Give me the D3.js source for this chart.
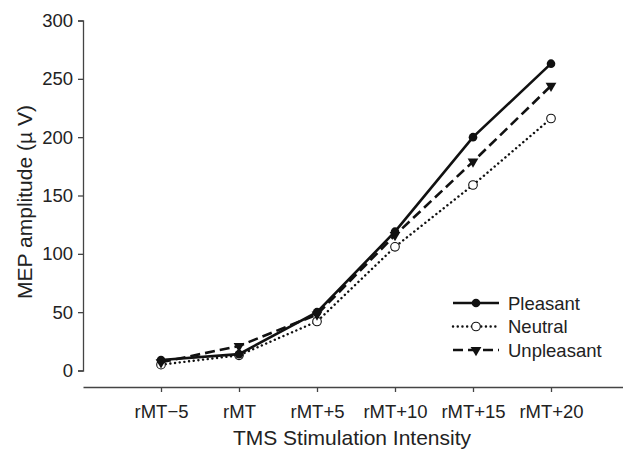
<!DOCTYPE html>
<html>
<head>
<meta charset="utf-8">
<script src="https://cdn.jsdelivr.net/npm/d3@7"></script>
<style>
  body { margin: 0; background: #fff; }
  svg { font-family: "Liberation Sans", Arial, sans-serif; }
  .axis path, .axis line { stroke: #444; stroke-width: 1.3; }
  .axis text { fill: #222; font-size: 18.5px; }
</style>
</head>
<body>
<div id="chart"></div>
<script>
// categories and series values
var categories = ["rMT\u22125", "rMT", "rMT+5", "rMT+10", "rMT+15", "rMT+20"];
var pleasant   = [9, 14, 50, 119, 200, 263];
var neutral    = [5, 13, 42, 106, 159, 216];
var unpleasant = [7, 21, 48, 116, 179, 244];
var yTicks = [0, 50, 100, 150, 200, 250, 300];

var width = 623, height = 451;

var svg = d3.select("#chart")
    .append("svg")
        .attr("width", width)
        .attr("height", height);

// set the ranges
var x = d3.scalePoint().domain(categories).range([83, 629]).padding(1);
var y = d3.scaleLinear().domain([0, 300]).range([370.5, 20.5]);

// axes
svg.append("g")
    .attr("class", "axis")
    .attr("transform", "translate(83,0)")
    .call(d3.axisLeft(y).tickValues(yTicks).tickSize(5).tickPadding(5));

svg.append("g")
    .attr("class", "axis")
    .attr("transform", "translate(0,387)")
    .call(d3.axisBottom(x).tickSize(5).tickSizeOuter(0).tickPadding(13));

// axis titles
svg.append("text")
    .attr("x", 352).attr("y", 445)
    .attr("text-anchor", "middle")
    .style("font-size", "21px").style("fill", "#222")
    .text("TMS Stimulation Intensity");

svg.append("text")
    .attr("transform", "translate(32,202) rotate(-90)")
    .attr("text-anchor", "middle")
    .style("font-size", "21px").style("fill", "#222")
    .text("MEP amplitude (\u00b5 V)");

var series = [
    {name: "Pleasant",   values: pleasant,   dash: null,      width: 2.6, cap: "butt",  marker: "dot"},
    {name: "Neutral",    values: neutral,    dash: "0.1,4.6", width: 2.4, cap: "round", marker: "open"},
    {name: "Unpleasant", values: unpleasant, dash: "10,5",    width: 2.6, cap: "butt",  marker: "tri"}
];

var line = d3.line()
    .x(function(d, i) { return x(categories[i]); })
    .y(function(d) { return y(d); });

function drawMarker(g, type, cx, cy) {
    if (type === "dot") {
        g.append("circle").attr("cx", cx).attr("cy", cy).attr("r", 4.3).attr("fill", "#111");
    } else if (type === "open") {
        g.append("circle").attr("cx", cx).attr("cy", cy).attr("r", 4.3)
            .attr("fill", "#fff").attr("stroke", "#111").attr("stroke-width", 1.1);
    } else {
        g.append("path")
            .attr("d", d3.symbol().type(d3.symbolTriangle).size(50))
            .attr("transform", "translate(" + cx + "," + cy + ") rotate(180)")
            .attr("fill", "#111");
    }
}

// lines, drawn back to front so the solid line is on top
[1, 2, 0].forEach(function(k) {
    var s = series[k];
    svg.append("path")
        .datum(s.values)
        .attr("fill", "none")
        .attr("stroke", "#111")
        .attr("stroke-width", s.width)
        .attr("stroke-linecap", s.cap)
        .attr("stroke-dasharray", s.dash)
        .attr("d", line);
    var g = svg.append("g");
    s.values.forEach(function(v, i) {
        drawMarker(g, s.marker, x(categories[i]), y(v));
    });
});

// legend
function drawLegend(s, row) {
    var ly = 303 + row * 23.5;
    var g = svg.append("g");
    g.append("line")
        .attr("x1", 453).attr("x2", 499).attr("y1", ly).attr("y2", ly)
        .attr("stroke", "#111")
        .attr("stroke-width", s.width)
        .attr("stroke-linecap", s.cap)
        .attr("stroke-dasharray", s.dash);
    drawMarker(g, s.marker, 476, ly);
    g.append("text").attr("x", 508).attr("y", ly)
        .attr("dominant-baseline", "central")
        .style("font-size", "18.5px").style("fill", "#222")
        .text(s.name);
}
series.forEach(drawLegend);
</script>
</body>
</html>
